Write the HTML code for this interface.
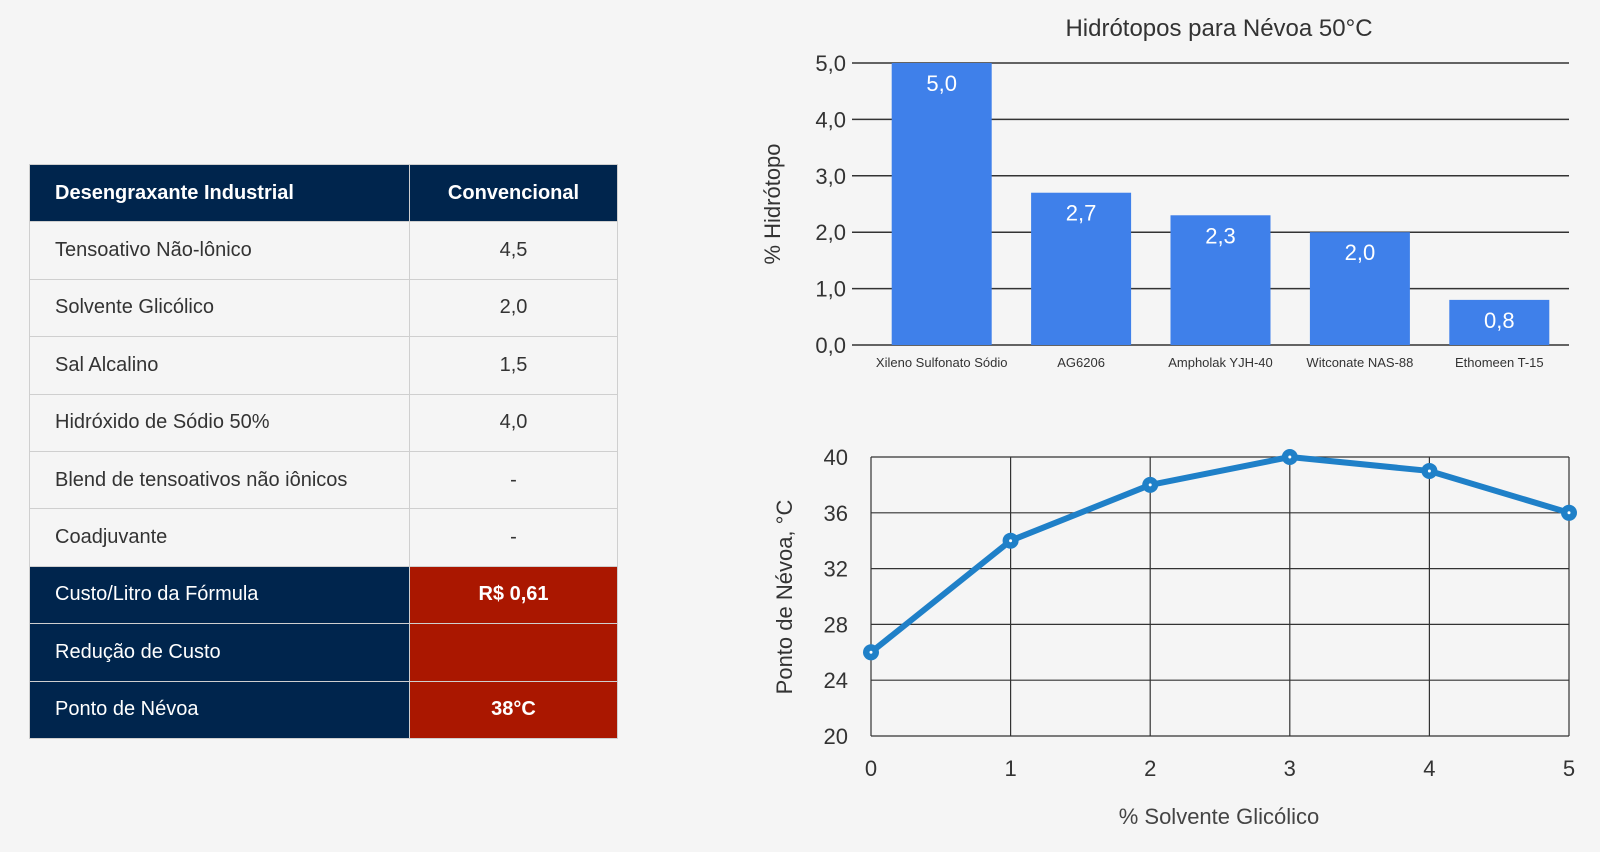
<!DOCTYPE html>
<html><head><meta charset="utf-8">
<style>
html,body{margin:0;padding:0;background:#f5f5f5;width:1600px;height:852px;overflow:hidden;font-family:"Liberation Sans",sans-serif;}
table{position:absolute;left:29px;top:164px;border-collapse:collapse;width:589px;}
td{height:56.4px;border:1px solid #cfcfcf;font-size:20px;color:#333;padding:0;}
td.l{width:354px;padding-left:25px;}
td.r{text-align:center;}
tr.hd td{background:#00254d;color:#fff;font-weight:bold;}
tr.dk td.l{background:#00254d;color:#fff;}
tr.dk td.r{background:#aa1700;color:#fff;font-weight:bold;}
svg{position:absolute;left:0;top:0;}
</style></head><body>
<table>
<tr class="hd"><td class="l">Desengraxante Industrial</td><td class="r">Convencional</td></tr>
<tr><td class="l">Tensoativo Não-lônico</td><td class="r">4,5</td></tr>
<tr><td class="l">Solvente Glicólico</td><td class="r">2,0</td></tr>
<tr><td class="l">Sal Alcalino</td><td class="r">1,5</td></tr>
<tr><td class="l">Hidróxido de Sódio 50%</td><td class="r">4,0</td></tr>
<tr><td class="l">Blend de tensoativos não iônicos</td><td class="r">-</td></tr>
<tr><td class="l">Coadjuvante</td><td class="r">-</td></tr>
<tr class="dk"><td class="l">Custo/Litro da Fórmula</td><td class="r">R$ 0,61</td></tr>
<tr class="dk"><td class="l">Redução de Custo</td><td class="r"></td></tr>
<tr class="dk"><td class="l">Ponto de Névoa</td><td class="r">38°C</td></tr>
</table>
<svg id="c" width="1600" height="852"></svg>
<script>
const barCats=["Xileno Sulfonato Sódio","AG6206","Ampholak YJH-40","Witconate NAS-88","Ethomeen T-15"];
const barVals=[5.0,2.7,2.3,2.0,0.8];
const barTicks=[0,1,2,3,4,5];
const lineX=[0,1,2,3,4,5];
const lineY=[26,34,38,40,39,36];
const lineYTicks=[20,24,28,32,36,40];

const svg=document.getElementById('c');
const NS='http://www.w3.org/2000/svg';
function mk(t,a,txt){const e=document.createElementNS(NS,t);for(const k in a)e.setAttribute(k,a[k]);if(txt!==undefined)e.textContent=txt;svg.appendChild(e);return e;}
const fmt=v=>v.toFixed(1).replace('.',',');

// bar chart
const bx0=872,bx1=1569,by0=345,by1=63;
const bY=v=>by0-(v/5)*(by0-by1);
const band=(bx1-bx0)/barCats.length;
let t=mk('text',{x:1219,y:36,'text-anchor':'middle','font-size':24,fill:'#333'},'Hidrótopos para Névoa 50°C');


barTicks.forEach(v=>{
 let g=mk('line',{x1:bx0-20,x2:bx1,y1:bY(v),y2:bY(v),stroke:'#333','stroke-width':1.5});
 
 
 let l=mk('text',{x:846,y:bY(v)+8,'text-anchor':'end','font-size':22,fill:'#333'},fmt(v));
 
 
});
barVals.forEach((v,i)=>{
 const cx=bx0+band*(i+0.5);
 let r=mk('rect',{x:cx-50,y:bY(v),width:100,height:by0-bY(v),fill:'#3f80ea'});
 
 
 let vl=mk('text',{x:cx,y:bY(v)+28,'text-anchor':'middle','font-size':22,fill:'#fff'},fmt(v));
 
 
 let cl=mk('text',{x:cx,y:367,'text-anchor':'middle','font-size':13,fill:'#333'},barCats[i]);
 
 
});
t=mk('text',{x:0,y:0,'text-anchor':'middle','font-size':22,fill:'#333',transform:'translate(780,204) rotate(-90)'},'% Hidrótopo');



// line chart
const lx0=871,lx1=1569,ly0=736,ly1=457;
const lX=v=>lx0+(v/5)*(lx1-lx0);
const lY=v=>ly0-((v-20)/20)*(ly0-ly1);
lineYTicks.forEach(v=>{
 let g=mk('line',{x1:lx0,x2:lx1,y1:lY(v),y2:lY(v),stroke:'#333','stroke-width':1.2});
 
 
 let l=mk('text',{x:848,y:lY(v)+8,'text-anchor':'end','font-size':22,fill:'#333'},String(v));
 
 
});
lineX.forEach(v=>{
 let g=mk('line',{x1:lX(v),x2:lX(v),y1:ly1,y2:ly0,stroke:'#333','stroke-width':1.2});
 
 
 let l=mk('text',{x:lX(v),y:776,'text-anchor':'middle','font-size':22,fill:'#333'},String(v));
 
 
});
let p=mk('polyline',{points:lineX.map((x,i)=>lX(x)+','+lY(lineY[i])).join(' '),fill:'none',stroke:'#1f80c8','stroke-width':6,'stroke-linejoin':'round'});


lineX.forEach((x,i)=>{
 let c=mk('circle',{cx:lX(x),cy:lY(lineY[i]),r:8,fill:'#1f80c8'});
 
 
 let d=mk('circle',{cx:lX(x),cy:lY(lineY[i]),r:1.5,fill:'#fff'});
 
 
});
t=mk('text',{x:1219,y:824,'text-anchor':'middle','font-size':22,fill:'#444'},'% Solvente Glicólico');


t=mk('text',{x:0,y:0,'text-anchor':'middle','font-size':22,fill:'#333',transform:'translate(792,597) rotate(-90)'},'Ponto de Névoa, °C');


</script>
</body></html>
